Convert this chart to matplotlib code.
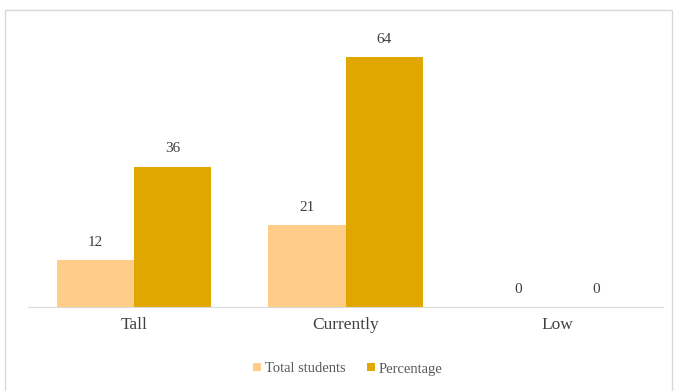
import numpy as np
import matplotlib.pyplot as plt
from matplotlib.patches import Rectangle

categories = ["Tall", "Currently", "Low"]
total_students = [12, 21, 0]
percentage = [36, 64, 0]

light = "#FFCD87"
dark = "#E0A700"

plt.rcParams['font.family'] = ['Liberation Serif', 'DejaVu Serif']

fig = plt.figure(figsize=(6.78, 3.91), dpi=100)
# outer chart frame
fig.patches.append(Rectangle((5/678, -0.05), 667/678, 1 - 10/391 + 0.05,
                             transform=fig.transFigure, fill=False,
                             edgecolor="#D9D9D9", linewidth=1.0))

ax = fig.add_axes([28/678, (391-307)/391, 635/678, 270/391])

x = np.arange(len(categories))
w = 0.365
b1 = ax.bar(x - w/2, total_students, w, color=light, label="Total students")
b2 = ax.bar(x + w/2, percentage, w, color=dark, label="Percentage")

for bars, vals in ((b1, total_students), (b2, percentage)):
    for r, v in zip(bars, vals):
        ax.annotate(str(v), (r.get_x() + r.get_width()/2, v),
                    xytext=(0, 8), textcoords="offset points",
                    ha="center", va="bottom", fontsize=11, color="#404040")

ax.set_xlim(-0.5, 2.5)
ax.set_ylim(0, 270/3.9)
ax.set_xticks(x)
ax.set_xticklabels(categories, fontsize=12.5, color="#404040")
ax.tick_params(axis="x", length=0, pad=7)
ax.set_yticks([])
for s in ("top", "right", "left"):
    ax.spines[s].set_visible(False)
ax.spines["bottom"].set_color("#D9D9D9")

fig.legend(loc="center", bbox_to_anchor=(348/678, (391-369)/391), ncol=2,
           frameon=False, fontsize=10.5, handlelength=0.5, handleheight=0.5,
           handletextpad=0.3, columnspacing=1.5, labelcolor="#595959")

fig.savefig("out.png", dpi=100)
